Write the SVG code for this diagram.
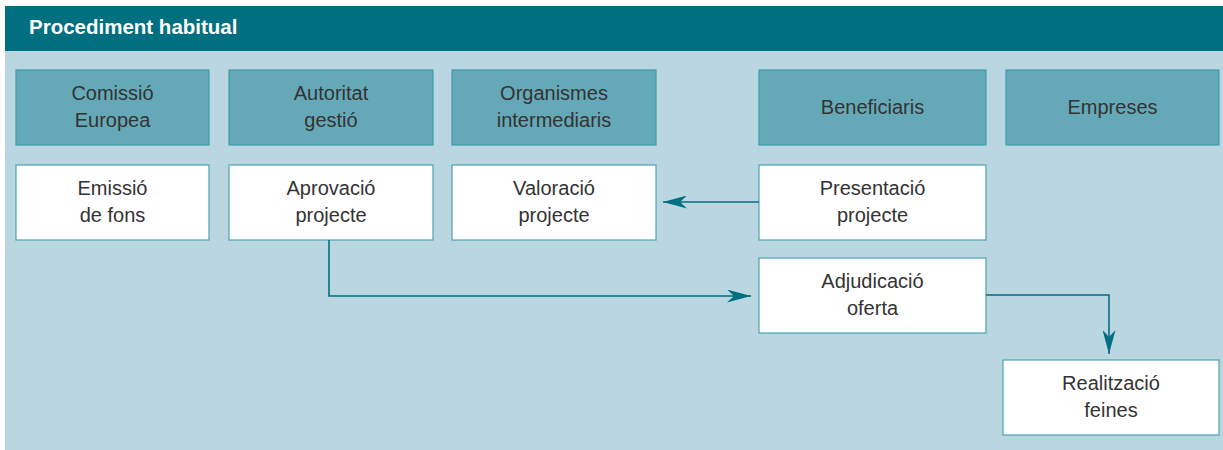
<svg xmlns="http://www.w3.org/2000/svg" width="1223" height="450" viewBox="0 0 1223 450">
<style>
.t{font-family:"Liberation Sans",Arial,sans-serif;font-size:20px;fill:#333;text-anchor:middle}
.h{fill:#65a9b8;stroke:#3a9eac;stroke-width:1.2}
.w{fill:#fff;stroke:#4aa3b0;stroke-width:1.2}
.c{fill:none;stroke:#006f80;stroke-width:1.6}
</style>
<defs>
<marker id="ah" viewBox="0 0 24 13" refX="24" refY="6.5" markerWidth="24" markerHeight="13" markerUnits="userSpaceOnUse" orient="auto">
<path d="M0,0 L24,6.5 L0,13 L7,6.5 Z" fill="#006f80"/>
</marker>
</defs>
<rect x="5" y="6" width="1218" height="444" fill="#bad6e0"/>
<rect x="5" y="6" width="1218" height="45" fill="#006f80"/>
<text x="29" y="34" style="font-family:'Liberation Sans',Arial,sans-serif;font-size:20.5px;font-weight:bold;fill:#fff">Procediment habitual</text>
<g id="n-comissio"><rect class="h" x="16" y="70" width="193" height="75"/><text class="t" x="112.5" y="100">Comissió</text><text class="t" x="112.5" y="127">Europea</text></g>
<g id="n-autoritat"><rect class="h" x="229" y="70" width="204" height="75"/><text class="t" x="331" y="100">Autoritat</text><text class="t" x="331" y="127">gestió</text></g>
<g id="n-organismes"><rect class="h" x="452" y="70" width="204" height="75"/><text class="t" x="554" y="100">Organismes</text><text class="t" x="554" y="127">intermediaris</text></g>
<g id="n-beneficiaris"><rect class="h" x="759" y="70" width="227" height="75"/><text class="t" x="872.5" y="114">Beneficiaris</text></g>
<g id="n-empreses"><rect class="h" x="1006" y="70" width="213" height="75"/><text class="t" x="1112.5" y="114">Empreses</text></g>
<g id="n-emissio"><rect class="w" x="16" y="165" width="193" height="75"/><text class="t" x="112.5" y="195">Emissió</text><text class="t" x="112.5" y="222">de fons</text></g>
<g id="n-aprovacio"><rect class="w" x="229" y="165" width="204" height="75"/><text class="t" x="331" y="195">Aprovació</text><text class="t" x="331" y="222">projecte</text></g>
<g id="n-valoracio"><rect class="w" x="452" y="165" width="204" height="75"/><text class="t" x="554" y="195">Valoració</text><text class="t" x="554" y="222">projecte</text></g>
<g id="n-presentacio"><rect class="w" x="759" y="165" width="227" height="75"/><text class="t" x="872.5" y="195">Presentació</text><text class="t" x="872.5" y="222">projecte</text></g>
<g id="n-adjudicacio"><rect class="w" x="759" y="258" width="227" height="75"/><text class="t" x="872.5" y="288">Adjudicació</text><text class="t" x="872.5" y="315">oferta</text></g>
<g id="n-realitzacio"><rect class="w" x="1003" y="360" width="216" height="75"/><text class="t" x="1111" y="390">Realització</text><text class="t" x="1111" y="417">feines</text></g>
<g id="connectors">
<path class="c" d="M759,202 L663,202" marker-end="url(#ah)"/>
<path class="c" d="M329,240 L329,296 L751,296" marker-end="url(#ah)"/>
<path class="c" d="M986,295 L1109,295 L1109,354" marker-end="url(#ah)"/>
</g>
</svg>
